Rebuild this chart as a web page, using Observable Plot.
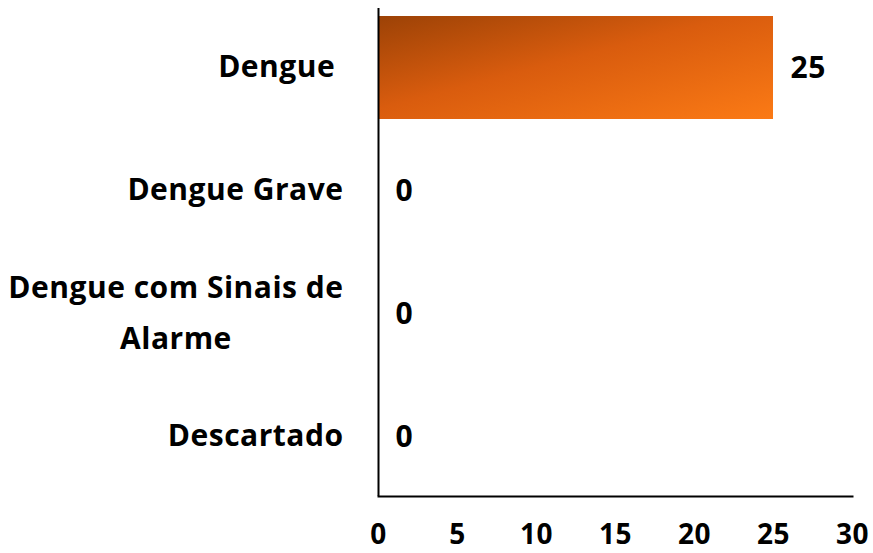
<!DOCTYPE html>
<html>
<head>
<meta charset="utf-8">
<script src="https://cdn.jsdelivr.net/npm/d3@7"></script>
<script src="https://cdn.jsdelivr.net/npm/@observablehq/plot@0.6"></script>
<style>
  body { margin: 0; background: #fff; }
  svg text { white-space: pre; letter-spacing: 0.5px; }
</style>
</head>
<body>
<div id="chart"></div>
<script>
const categories = ["Dengue ", "Dengue Grave", "Dengue com Sinais de\nAlarme", "Descartado"];
const values = [25, 0, 0, 0];
const xTicks = [0, 5, 10, 15, 20, 25, 30];

const data = categories.map((c, i) => ({category: c, value: values[i]}));
const font = "'Open Sans', sans-serif";
const fs = 30;

const chart = Plot.plot({
  width: 873,
  height: 553,
  marginLeft: 378,
  marginRight: 21,
  marginTop: 8,
  marginBottom: 57,
  style: {fontFamily: font, fontSize: fs + "px", fontWeight: "bold", color: "#000", background: "#fff", overflow: "visible"},
  x: {domain: [0, 30], ticks: xTicks, label: null},
  y: {domain: categories, paddingInner: 0.16, paddingOuter: 0.08, range: [5, 499], axis: null},
  marks: [
    () => {
      const ns = "http://www.w3.org/2000/svg";
      const defs = document.createElementNS(ns, "defs");
      defs.innerHTML = `<linearGradient id="barGrad" x1="0" y1="0" x2="1" y2="1">
        <stop offset="0%" stop-color="#9c4206"/>
        <stop offset="45%" stop-color="#d95c0e"/>
        <stop offset="100%" stop-color="#fb7a15"/>
      </linearGradient>`;
      return defs;
    },
    Plot.barX(data, {y: "category", x: "value", fill: "url(#barGrad)"}),
    Plot.frame({anchor: "bottom", stroke: "#000", strokeWidth: 2}),
    Plot.ruleX([0], {stroke: "#000", strokeWidth: 2}),
    Plot.axisX({ticks: xTicks, tickSize: 0, tickPadding: 28, label: null, fontSize: 28, fontWeight: "bold", fill: "#000"}),
    Plot.text(data, {y: "category", x: "value", text: d => String(d.value), textAnchor: "start", dx: 17, fontSize: fs, fontWeight: "bold", fill: "#000"}),
    Plot.text(data, {y: "category", frameAnchor: "left", text: "category", textAnchor: "end", dx: -35, dy: -7, lineHeight: 1.7, fontSize: fs, fontWeight: "bold", fill: "#000", className: "ylab"})
  ]
});

document.getElementById("chart").appendChild(chart);

// center lines of multi-line category labels within their right-aligned block
chart.querySelectorAll(".ylab text").forEach(t => {
  const spans = t.querySelectorAll("tspan");
  if (spans.length < 2) return;
  const widths = Array.from(spans, s => s.getComputedTextLength());
  const maxW = Math.max(...widths);
  spans.forEach((s, i) => {
    s.setAttribute("x", String(-(maxW - widths[i]) / 2));
  });
});
</script>
</body>
</html>
